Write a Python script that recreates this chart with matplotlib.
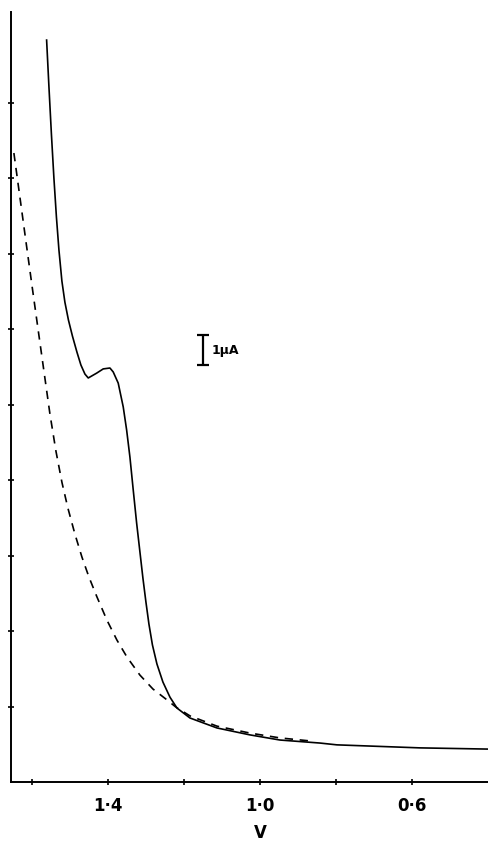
import matplotlib.pyplot as plt

# voltage (V) and current (uA)
v_solid = [1.5613, 1.5553, 1.5487, 1.5421, 1.5355, 1.5289, 1.5211, 1.5132, 1.5039,
           1.4934, 1.4816, 1.4711, 1.4605, 1.4518, 1.4297, 1.4124, 1.3947, 1.3861,
           1.3729, 1.3597, 1.3508, 1.3421, 1.3334, 1.3245, 1.3158, 1.3079, 1.3000,
           1.2921, 1.2829, 1.2711, 1.2553, 1.2368, 1.2184, 1.1842, 1.1132, 1.0263,
           0.9474, 0.8421, 0.7974, 0.5789, 0.4000]
i_solid = [24.57, 23.05, 21.46, 20.00, 18.71, 17.62, 16.59, 15.89, 15.30,
           14.77, 14.24, 13.81, 13.51, 13.38, 13.54, 13.68, 13.71, 13.58,
           13.21, 12.42, 11.66, 10.76, 9.67, 8.58, 7.62, 6.75, 5.96,
           5.23, 4.54, 3.91, 3.31, 2.81, 2.45, 2.12, 1.79, 1.56,
           1.39, 1.29, 1.23, 1.13, 1.09]

v_dash = [1.6474, 1.6316, 1.6158, 1.6000, 1.5842, 1.5684, 1.5526, 1.5368, 1.5211,
          1.5053, 1.4868, 1.4684, 1.4500, 1.4289, 1.4026, 1.3763, 1.3500, 1.3158,
          1.2816, 1.2447, 1.2211, 1.1842, 1.1132, 1.0263, 0.9474, 0.8684]
i_dash = [20.83, 19.37, 17.91, 16.46, 15.03, 13.61, 12.19, 10.96, 9.93,
          9.07, 8.21, 7.45, 6.79, 6.13, 5.36, 4.70, 4.14, 3.54,
          3.08, 2.72, 2.48, 2.19, 1.85, 1.62, 1.46, 1.36]

x_ticks = [1.6, 1.4, 1.2, 1.0, 0.8, 0.6]
x_labels = ['', '1·4', '', '1·0', '', '0·6']
y_ticks = [2.5, 5, 7.5, 10, 12.5, 15, 17.5, 20, 22.5]

narrow = ['Liberation Sans Narrow', 'DejaVu Sans']

fig = plt.figure(figsize=(4.88, 8.43), dpi=100)
ax = fig.add_axes([11 / 488, 61 / 843, 477 / 488, 770 / 843])

ax.plot(v_solid, i_solid, color='black', lw=1.2)
ax.plot(v_dash, i_dash, color='black', lw=1.2, dashes=(5, 4))

ax.set_xlim(1.655, 0.4)
ax.set_ylim(0, 25.5)

ax.spines['top'].set_visible(False)
ax.spines['right'].set_visible(False)
ax.spines['left'].set_linewidth(1.4)
ax.spines['bottom'].set_linewidth(1.4)

ax.set_xticks(x_ticks)
ax.set_xticklabels(x_labels, fontsize=12, fontweight='bold', family=narrow)
ax.set_yticks(y_ticks)
ax.set_yticklabels([])
ax.tick_params(direction='inout', length=5, width=1.2, pad=8)

ax.text(1.0, -0.066, 'V', transform=ax.get_xaxis_transform(), ha='center',
        va='center', fontsize=12, fontweight='bold', family=narrow)

# 1 uA scale bar
ax.errorbar([1.150], [14.30], yerr=[0.5], color='black', capsize=4,
            elinewidth=1.6, capthick=1.6)
ax.text(1.128, 14.30, '1µA', ha='left', va='center', fontsize=9,
        fontweight='bold', family=narrow)

fig.savefig('out.png', dpi=100)
